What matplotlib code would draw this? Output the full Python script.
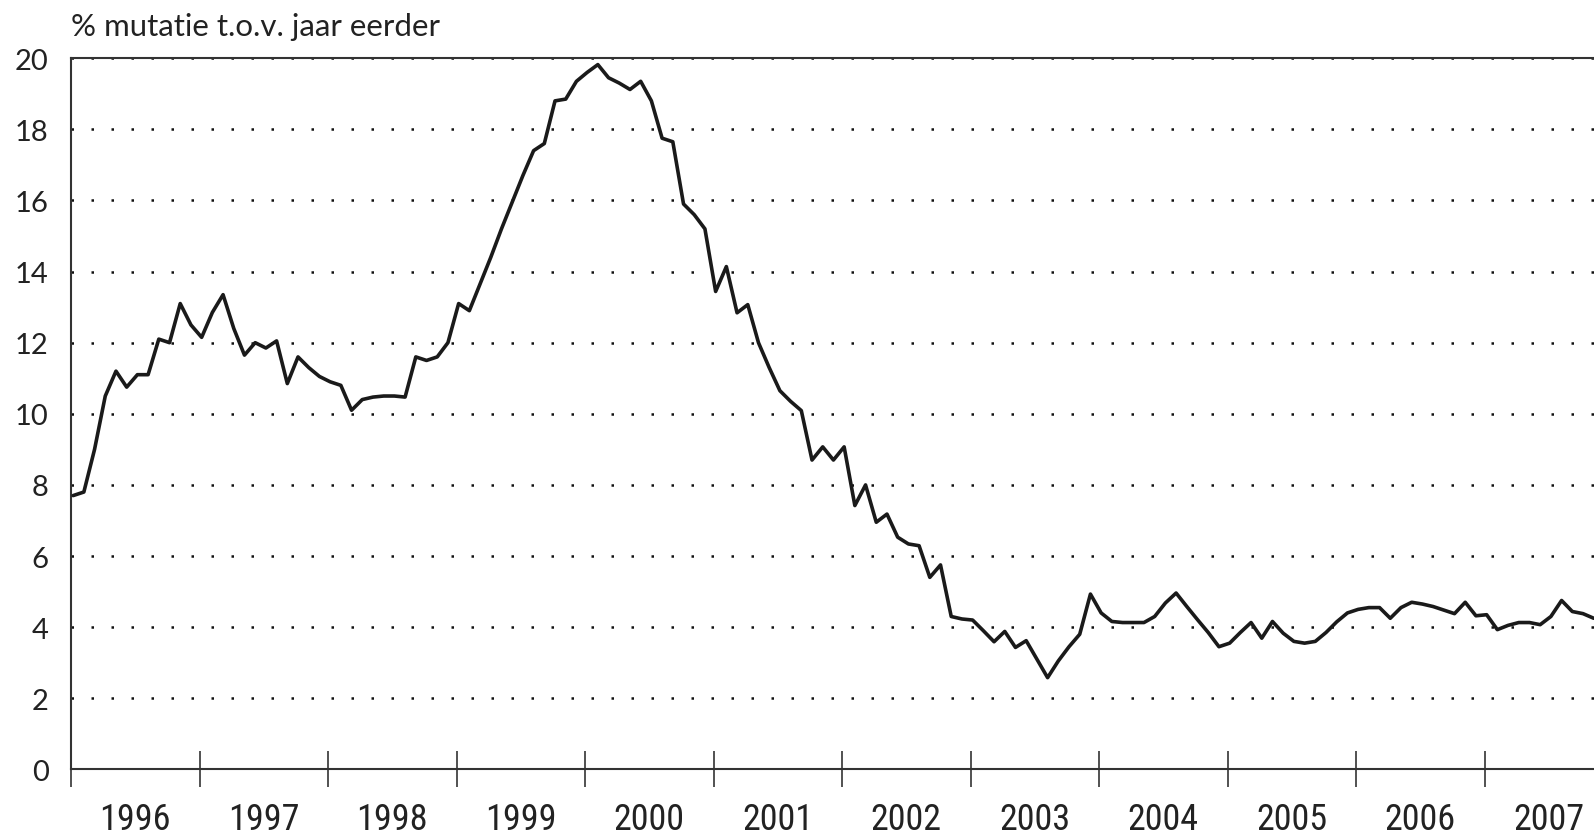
import matplotlib
matplotlib.use("Agg")
import matplotlib.pyplot as plt
import numpy as np

# year-on-year change (%), monthly
y1996 = [7.7, 7.8, 9.0, 10.5, 11.2, 10.75, 11.1, 11.1, 12.1, 12.0, 13.1, 12.5]
y1997 = [12.15, 12.85, 13.35, 12.4, 11.65, 12.0, 11.85, 12.05, 10.85, 11.6, 11.3, 11.05]
y1998 = [10.9, 10.8, 10.1, 10.4, 10.47, 10.5, 10.5, 10.47, 11.6, 11.5, 11.6, 12.0]
y1999 = [13.1, 12.9, 13.65, 14.4, 15.2, 15.95, 16.7, 17.4, 17.6, 18.8, 18.85, 19.35]
y2000 = [19.6, 19.82, 19.45, 19.3, 19.12, 19.35, 18.8, 17.75, 17.65, 15.9, 15.6, 15.2]
y2001 = [13.44, 14.14, 12.84, 13.07, 12.0, 11.3, 10.65, 10.35, 10.09, 8.7, 9.07, 8.7]
y2002 = [9.07, 7.42, 8.0, 6.95, 7.18, 6.53, 6.34, 6.29, 5.4, 5.75, 4.3, 4.23]
y2003 = [4.2, 3.9, 3.59, 3.88, 3.43, 3.62, 3.1, 2.58, 3.05, 3.45, 3.8, 4.93]
y2004 = [4.4, 4.16, 4.13, 4.13, 4.13, 4.3, 4.68, 4.96, 4.58, 4.21, 3.85, 3.45]
y2005 = [3.55, 3.85, 4.13, 3.69, 4.16, 3.83, 3.6, 3.55, 3.6, 3.85, 4.15, 4.4]
y2006 = [4.5, 4.55, 4.55, 4.25, 4.55, 4.7, 4.65, 4.58, 4.48, 4.38, 4.7, 4.32]
y2007 = [4.35, 3.93, 4.05, 4.13, 4.13, 4.07, 4.3, 4.75, 4.44, 4.38, 4.25]

years = list(range(1996, 2008))
y_ticks = list(range(0, 21, 2))
ylabel_text = "% mutatie t.o.v. jaar eerder"

values = (y1996 + y1997 + y1998 + y1999 + y2000 + y2001 + y2002 + y2003
          + y2004 + y2005 + y2006 + y2007)
months = np.arange(len(values))
x = 1996 + (months + 0.2) / 12

W, H = 1594, 837
fig = plt.figure(figsize=(W / 100, H / 100), dpi=100)
ax = fig.add_axes([71 / W, (H - 770.4) / H, 1 - 71 / W, 711.2 / H])

ax.plot(x, values, color="#1a1a1a", lw=2.6, solid_joinstyle="round",
        solid_capstyle="round", zorder=3)

ax.set_xlim(1996, 1996 + 1523 / 128.5)
ax.set_ylim(0, 20)

# dotted horizontal grid
ax.set_yticks(y_ticks)
ax.yaxis.grid(True, linestyle=(0, (1, 7)), linewidth=1.8, color="#111111",
              dash_capstyle="butt")
ax.set_axisbelow(True)

for side in ["left", "bottom", "top"]:
    ax.spines[side].set_color("#333333")
    ax.spines[side].set_linewidth(1.5)
ax.spines["right"].set_visible(False)

ax.tick_params(axis="y", length=0, pad=16, labelsize=21, labelcolor="#222222")
for lab in ax.get_yticklabels():
    lab.set_family("Lato")

# year boundaries as ticks, year names centred between them
ax.set_xticks(years)
ax.set_xticklabels([""] * len(years))
ax.tick_params(axis="x", which="major", direction="inout", length=26,
               width=1.2, color="#333333")
ax.set_xticks([yr + 0.5 for yr in years], minor=True)
ax.set_xticklabels([str(yr) for yr in years], minor=True,
                   family=["Roboto Condensed", "Liberation Sans Narrow", "Lato"])
ax.tick_params(axis="x", which="minor", length=0, pad=23, labelsize=26,
               labelcolor="#222222")

fig.text(71 / W, 1 - 27 / H, ylabel_text, fontsize=22.5, family="Lato",
         va="center", ha="left", color="#222222")

fig.savefig("out.png", dpi=100)
